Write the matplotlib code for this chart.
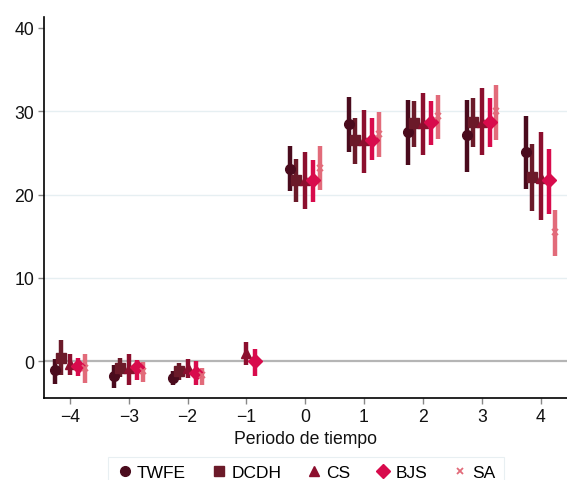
import matplotlib
matplotlib.use("Agg")
import matplotlib.pyplot as plt
from matplotlib.lines import Line2D
import numpy as np

plt.rcParams['font.family'] = ['Liberation Sans', 'DejaVu Sans']

periods = [-4, -3, -2, -1, 0, 1, 2, 3, 4]
tick_labels = ["\u22124", "\u22123", "\u22122", "\u22121", "0", "1", "2", "3", "4"]

# estimators: point estimate, lower CI, upper CI (None = not estimated)
twfe_est = [-1.1, -1.8, -2.0, None, 23.1, 28.5, 27.5, 27.1, 25.1]
twfe_lo  = [-2.7, -3.2, -2.9, None, 20.4, 25.1, 23.5, 22.7, 20.7]
twfe_hi  = [0.3, -0.4, -1.2, None, 25.8, 31.7, 31.4, 31.4, 29.4]

dcdh_est = [0.45, -0.8, -1.2, None, 21.7, 26.5, 28.6, 28.7, 22.1]
dcdh_lo  = [-1.6, -1.9, -2.2, None, 19.1, 23.7, 25.7, 25.7, 18.0]
dcdh_hi  = [2.5, 0.45, -0.2, None, 24.3, 29.2, 31.2, 31.6, 26.1]

cs_est = [-0.3, -0.8, -0.8, 1.0, 21.7, 26.5, 28.6, 28.7, 22.0]
cs_lo  = [-1.7, -2.8, -2.0, -0.4, 18.3, 22.6, 24.7, 24.7, 16.9]
cs_hi  = [0.85, 0.9, 0.3, 2.3, 25.1, 30.2, 32.2, 32.8, 27.5]

bjs_est = [-0.6, -0.7, -1.4, 0.0, 21.7, 26.6, 28.7, 28.7, 21.7]
bjs_lo  = [-1.8, -2.2, -2.9, -1.8, 19.1, 24.1, 26.0, 25.7, 17.7]
bjs_hi  = [0.45, 0.2, 0.0, 1.5, 24.2, 29.2, 31.2, 31.6, 25.5]

sa_est = [-0.8, -1.2, -1.7, None, 23.2, 27.3, 29.4, 30.0, 15.5]
sa_lo  = [-2.6, -2.5, -2.9, None, 20.6, 24.5, 26.7, 26.5, 12.6]
sa_hi  = [0.9, -0.1, -0.8, None, 25.8, 29.9, 32.0, 33.1, 18.2]

series = [
    ("TWFE", twfe_est, twfe_lo, twfe_hi, -0.25, "o", "#4a0b1d", 7),
    ("DCDH", dcdh_est, dcdh_lo, dcdh_hi, -0.15, "s", "#6b1a29", 7),
    ("CS",   cs_est,   cs_lo,   cs_hi,   0.0,  "^", "#8c0f2e", 7.5),
    ("BJS",  bjs_est,  bjs_lo,  bjs_hi,  0.14, "D", "#d80b4c", 7),
    ("SA",   sa_est,   sa_lo,   sa_hi,   0.25, "x", "#e26b7a", 5),
]

fig = plt.figure(figsize=(5.67, 4.81), dpi=100)
ax = fig.add_axes([44/567, 1-399/481, 1-44/567, (399-18)/481])

for g in [10, 20, 30]:
    ax.axhline(g, color="#e6eff2", lw=1.0, zorder=0)
ax.axhline(0, color="#b5b5b5", lw=1.6, zorder=1)

handles = []
for name, est, lo, hi, off, mk, col, ms in series:
    xs, ys, ylo, yhi = [], [], [], []
    for p, e, l, h in zip(periods, est, lo, hi):
        if e is None:
            continue
        xs.append(p + off); ys.append(e); ylo.append(e - l); yhi.append(h - e)
    ax.errorbar(xs, ys, yerr=[ylo, yhi], fmt="none", ecolor=col, elinewidth=3.2,
                capsize=0, zorder=2)
    if mk == "x":
        ax.plot(xs, ys, ls="none", marker=mk, ms=ms, mew=1.3, color=col, zorder=3)
    else:
        ax.plot(xs, ys, ls="none", marker=mk, ms=ms, color=col, mec=col, zorder=3)
    handles.append(Line2D([], [], ls="none", marker=mk, color=col, mec=col,
                          ms=(ms if mk != "x" else 5), mew=1.3 if mk == "x" else 1,
                          label=name))

ax.set_xlim(-4.44, 4.45)
ax.set_ylim(-4.4, 41.3)
ax.set_xticks(periods)
ax.set_xticklabels(tick_labels)
ax.set_yticks([0, 10, 20, 30, 40])
ax.tick_params(axis="both", direction="out", length=4, width=1, color="#888888",
               labelsize=12.7, labelcolor="#111111", pad=3)
ax.spines["top"].set_visible(False)
ax.spines["right"].set_visible(False)
ax.spines["left"].set_linewidth(1.2)
ax.spines["bottom"].set_linewidth(1.2)
ax.set_xlabel("Periodo de tiempo", fontsize=12.7, labelpad=4, color="#111111")

leg = fig.legend(handles=handles, loc="upper center", ncol=5,
                 bbox_to_anchor=(306/567, 1-455/481), frameon=True,
                 fontsize=12.5, handletextpad=0.2, columnspacing=1.4,
                 borderpad=0.15, handlelength=1.0)
leg.get_frame().set_edgecolor("#e3ecef")
leg.get_frame().set_linewidth(0.8)
leg.get_frame().set_boxstyle("square")

fig.savefig("out.png", dpi=100)
